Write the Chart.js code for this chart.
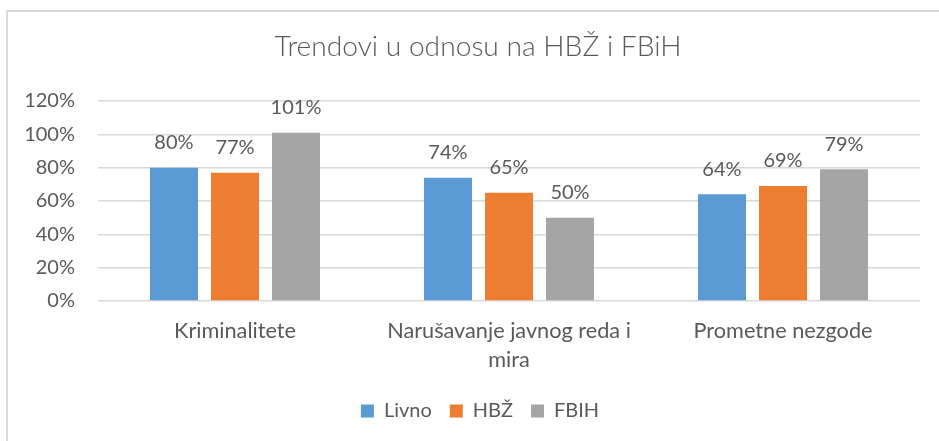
<!DOCTYPE html>
<html>
<head>
<meta charset="utf-8">
<script src="https://cdn.jsdelivr.net/npm/chart.js@4/dist/chart.umd.min.js"></script>
<style>
  html, body { margin: 0; padding: 0; background: #ffffff; }
  #wrap { position: relative; width: 939px; height: 441px; overflow: hidden; }
  #frame { position: absolute; left: 6px; top: 10px; width: 1000px; height: 1000px;
           border-left: 2px solid #dadada; border-top: 2px solid #dadada; }
  #c { position: absolute; left: 0; top: 0; }
</style>
</head>
<body>
<div id="wrap">
  <div id="frame"></div>
  <canvas id="c" width="939" height="441"></canvas>
</div>
<script>
const titleText = 'Trendovi u odnosu na HBŽ i FBiH';
const categories = ['Kriminalitete', ['Narušavanje javnog reda i', 'mira'], 'Prometne nezgode'];
const seriesNames = ['Livno', 'HBŽ', 'FBIH'];
const livno = [80, 74, 64];
const hbz = [77, 65, 69];
const fbih = [101, 50, 79];
const yTicks = [0, 20, 40, 60, 80, 100, 120];
const colors = ['#5B9BD5', '#ED7D31', '#A5A5A5'];

const FONT = 'Lato, "Open Sans", sans-serif';
const TXT = '#595959';

const dataLabels = {
  id: 'dataLabels',
  afterDatasetsDraw(chart) {
    const ctx = chart.ctx;
    ctx.save();
    ctx.font = '20px ' + FONT;
    ctx.fillStyle = TXT;
    ctx.textAlign = 'center';
    ctx.textBaseline = 'middle';
    chart.data.datasets.forEach((ds, i) => {
      const meta = chart.getDatasetMeta(i);
      meta.data.forEach((bar, j) => {
        ctx.fillText(ds.data[j] + '%', bar.x, bar.y - 25);
      });
    });
    ctx.restore();
  }
};

const boxShift = {
  id: 'boxShift',
  afterLayout(chart) {
    chart.legend.left += 20;
    chart.legend.right += 20;
    chart.titleBlock.left += 18;
    chart.titleBlock.right += 18;
  }
};

new Chart(document.getElementById('c'), {
  type: 'bar',
  data: {
    labels: categories,
    datasets: [
      { label: seriesNames[0], data: livno, backgroundColor: colors[0] },
      { label: seriesNames[1], data: hbz, backgroundColor: colors[1] },
      { label: seriesNames[2], data: fbih, backgroundColor: colors[2] }
    ]
  },
  options: {
    responsive: false,
    animation: false,
    devicePixelRatio: 1,
    categoryPercentage: 0.668,
    barPercentage: 0.787,
    layout: { padding: { left: 0, right: 19, top: 0, bottom: 10 } },
    plugins: {
      title: {
        display: true,
        text: titleText,
        color: TXT,
        font: { family: FONT, size: 28.2, weight: '300', lineHeight: 1.2 },
        padding: { top: 30, bottom: 37.2 }
      },
      legend: {
        display: true,
        position: 'bottom',
        labels: {
          color: TXT,
          font: { family: FONT, size: 20 },
          boxWidth: 13,
          boxHeight: 13,
          padding: 18
        }
      },
      tooltip: { enabled: false }
    },
    scales: {
      x: {
        grid: { display: false, drawTicks: false },
        border: { display: false },
        ticks: { color: TXT, font: { family: FONT, size: 21.7, lineHeight: 1.32 }, padding: 16, maxRotation: 0, autoSkip: false },
        afterFit(scale) { scale.height = 82; }
      },
      y: {
        min: 0,
        max: 120,
        afterBuildTicks(scale) { scale.ticks = yTicks.map(v => ({ value: v })); },
        grid: { color: '#D9D9D9', lineWidth: 1.5, drawTicks: false },
        border: { display: false },
        ticks: { color: TXT, font: { family: FONT, size: 20 }, padding: 23, callback: v => v + '%' },
        afterFit(scale) { scale.width = 98; }
      }
    }
  },
  plugins: [dataLabels, boxShift]
});
</script>
</body>
</html>
